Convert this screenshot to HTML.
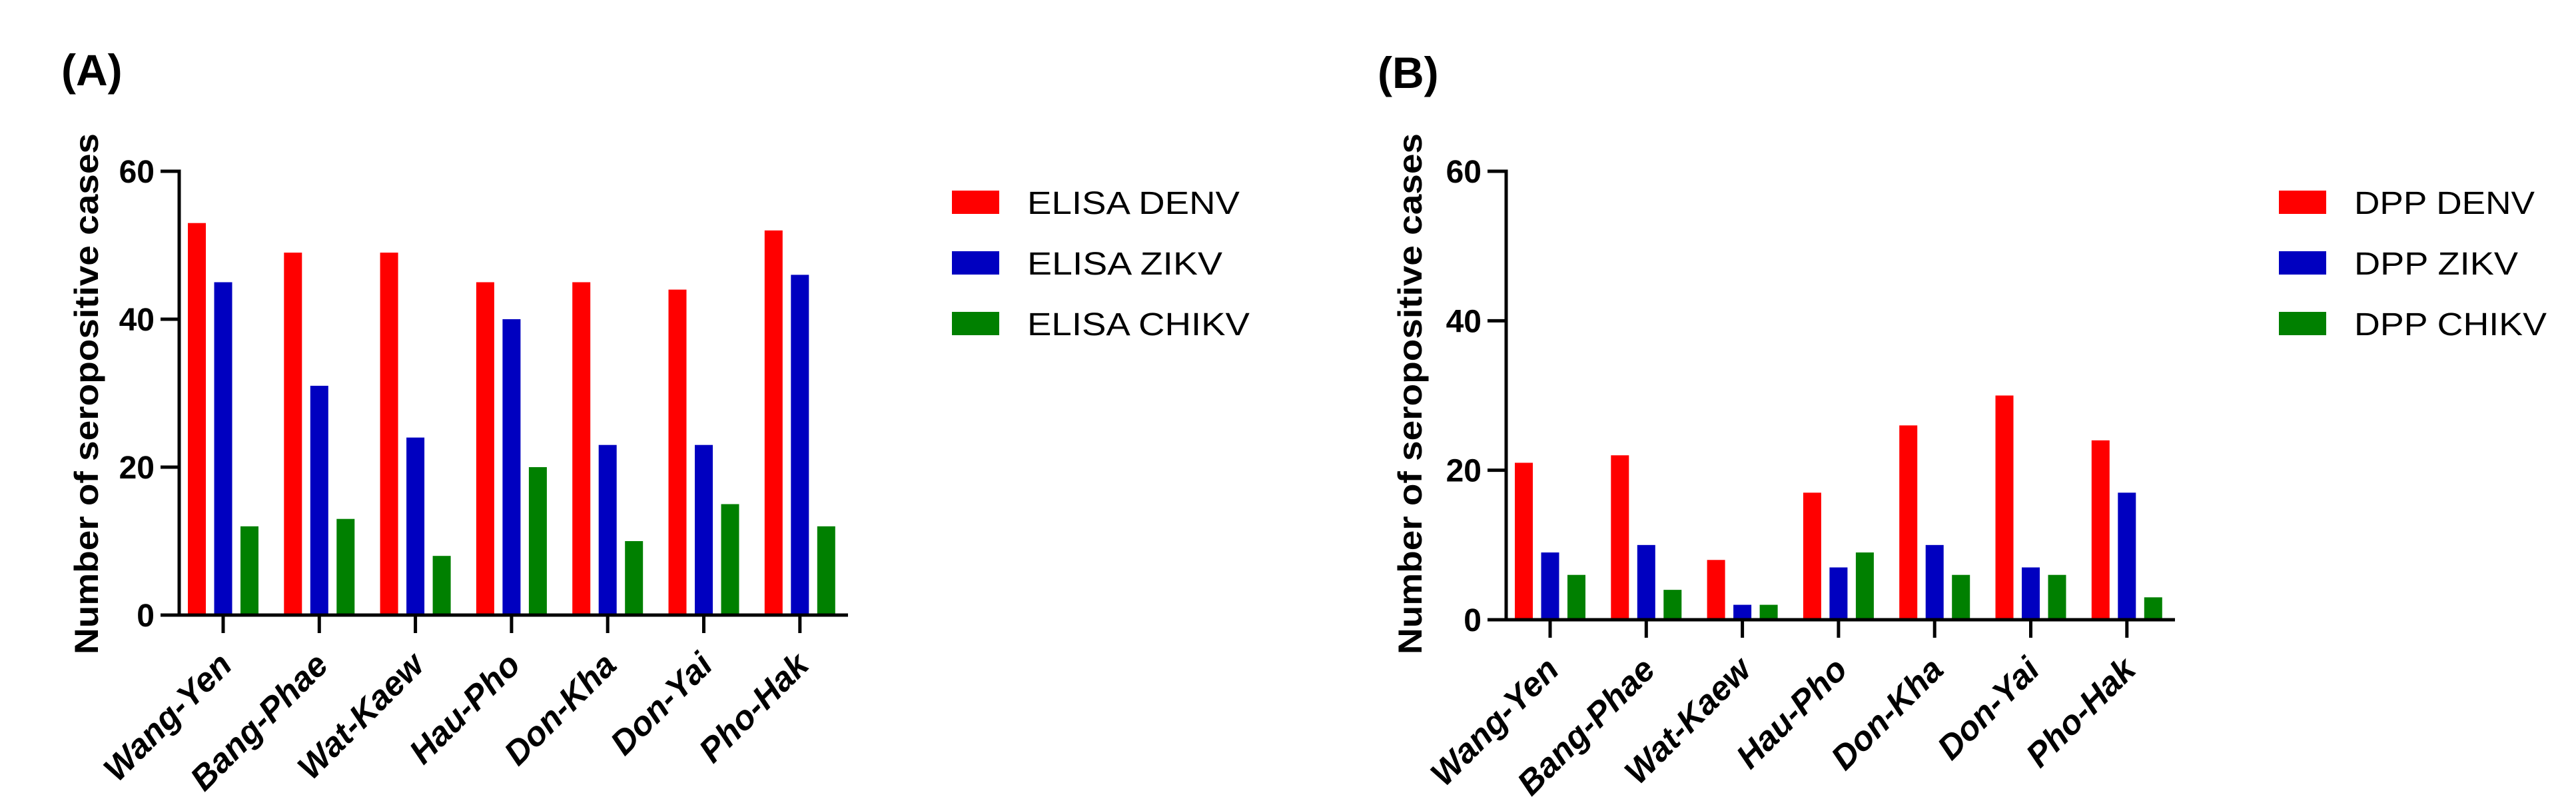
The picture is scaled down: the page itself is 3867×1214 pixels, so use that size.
<!DOCTYPE html>
<html><head><meta charset="utf-8"><style>
html,body{margin:0;padding:0;background:#fff;}
svg{display:block;}
text{font-family:"Liberation Sans",Arial,sans-serif;}
</style></head><body>
<svg id="chart" width="3867" height="1214" viewBox="0 0 3867 1214" xmlns="http://www.w3.org/2000/svg"></svg>
<script>
const categories = ["Wang-Yen","Bang-Phae","Wat-Kaew","Hau-Pho","Don-Kha","Don-Yai","Pho-Hak"];
const elisaDenv = [53,49,49,45,45,44,52];
const elisaZikv = [45,31,24,40,23,23,46];
const elisaChikv = [12,13,8,20,10,15,12];
const dppDenv = [21,22,8,17,26,30,24];
const dppZikv = [9,10,2,7,10,7,17];
const dppChikv = [6,4,2,9,6,6,3];
const yTicks = [0,20,40,60];
const elisaNames = ["ELISA DENV","ELISA ZIKV","ELISA CHIKV"];
const dppNames = ["DPP DENV","DPP ZIKV","DPP CHIKV"];
const colors = ["#ff0000","#0000c0","#008000"];

const svg = document.getElementById('chart');
const NS = "http://www.w3.org/2000/svg";
function mk(tag, attrs, parent){
  const e = document.createElementNS(NS, tag);
  for (const k in attrs) e.setAttribute(k, attrs[k]);
  (parent||svg).appendChild(e);
  return e;
}

function panel(cfg){
  const g = mk('g', {});
  
  
  const yMax = 60;
  const yScale = v => cfg.y0 - (v / yMax) * (cfg.y0 - cfg.yTop);
  const xScale = i => cfg.x0 + 66 + i * 144.3;

  // panel label
  const pl = mk('text', {x: cfg.labelX, y: cfg.labelY, 'font-size': 66, 'font-weight': 'bold', fill: '#000'}, g);
  pl.textContent = cfg.label;
  
  

  // bars
  const series = cfg.series;
  series.forEach((vals, s) => {
    vals.forEach((v, i) => {
      const cx = xScale(i) + (s - 1) * 39.5;
      const top = yScale(v);
      const r = mk('rect', {x: cx - 13.5, y: top, width: 27, height: cfg.y0 - top, fill: colors[s]}, g);
      
      
    });
  });

  // y axis
  const ya = mk('line', {x1: cfg.x0, y1: cfg.yTop - 2.5, x2: cfg.x0, y2: cfg.y0, stroke: '#000', 'stroke-width': 5}, g);
  
  
  yTicks.forEach(t => {
    const y = yScale(t);
    const tl = mk('line', {x1: cfg.x0 - 28, y1: y, x2: cfg.x0, y2: y, stroke: '#000', 'stroke-width': 5}, g);
    
    
    const tx = mk('text', {x: cfg.x0 - 37, y: y + 17, 'font-size': 48, 'font-weight': 'bold', 'text-anchor': 'end', fill: '#000'}, g);
    tx.textContent = t;
    
    
  });
  // x axis
  const xa = mk('line', {x1: cfg.x0 - 28, y1: cfg.y0, x2: cfg.x0 + 1004, y2: cfg.y0, stroke: '#000', 'stroke-width': 5}, g);
  
  
  categories.forEach((c, i) => {
    const x = xScale(i);
    const tl = mk('line', {x1: x, y1: cfg.y0, x2: x, y2: cfg.y0 + 27, stroke: '#000', 'stroke-width': 5}, g);
    
    
    const ax = x + 16, ay = cfg.y0 + 78;
    const tx = mk('text', {x: ax, y: ay, 'font-size': 51, 'font-weight': 'bold', 'font-style': 'italic', 'text-anchor': 'end', fill: '#000', transform: `rotate(-45 ${ax} ${ay})`}, g);
    tx.textContent = c;
    
    
  });

  // y title
  const yt = mk('text', {x: 0, y: 0, 'font-size': 50, 'font-weight': 'bold', 'text-anchor': 'middle', fill: '#000', textLength: 782, lengthAdjust: 'spacingAndGlyphs', transform: `translate(${cfg.titleX},591) rotate(-90)`}, g);
  yt.textContent = 'Number of seropositive cases';
  
  

  // legend
  cfg.names.forEach((n, s) => {
    const y = 286 + s * 91;
    const sw = mk('rect', {x: cfg.legX, y: y, width: 71, height: 35, fill: colors[s]}, g);
    
    
    const lt = mk('text', {x: cfg.legTextX, y: y + 35, 'font-size': 48, fill: '#000', textLength: cfg.legW[s], lengthAdjust: 'spacingAndGlyphs'}, g);
    lt.textContent = n;
    
    
  });
}

panel({name: 'panel-a-elisa', label: '(A)', labelX: 92, labelY: 128, x0: 269, y0: 923, yTop: 257, titleX: 147,
  series: [elisaDenv, elisaZikv, elisaChikv], names: elisaNames,
  legX: 1429, legTextX: 1542, legW: [319, 293, 334]});
panel({name: 'panel-b-dpp', label: '(B)', labelX: 2068, labelY: 132, x0: 2261, y0: 930, yTop: 257, titleX: 2134,
  series: [dppDenv, dppZikv, dppChikv], names: dppNames,
  legX: 3421, legTextX: 3534, legW: [271, 246, 289]});
</script>
</body></html>
